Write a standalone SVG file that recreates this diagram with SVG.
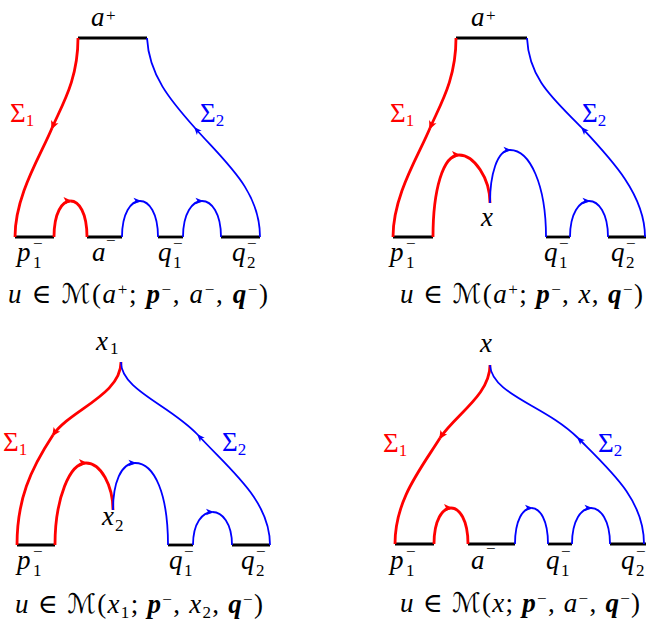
<svg xmlns="http://www.w3.org/2000/svg" width="646" height="625" viewBox="0 0 646 625">
<defs>
<style>
text{font-family:"Liberation Serif","DejaVu Serif",serif;font-size:27px;fill:#000}
.i{font-style:italic}
.bi{font-style:italic;font-weight:bold}
.s{font-size:17px}
.cal{font-family:"DejaVu Serif","DejaVu Sans",serif;font-style:normal}
.r{fill:#f00}
.b{fill:#00f}
.bar{stroke:#000;stroke-width:2.8;fill:none}
.rc{stroke:#f00;stroke-width:2.8;fill:none}
.bc{stroke:#00f;stroke-width:1.8;fill:none}
.rca{stroke:#f00;stroke-width:2.8;fill:none;marker-end:url(#ar)}
.bca{stroke:#00f;stroke-width:1.8;fill:none;marker-end:url(#ab)}
</style>
<marker id="ar" viewBox="-9 -5 11 10" refX="0" refY="0" markerWidth="11" markerHeight="10" orient="auto" markerUnits="userSpaceOnUse"><path d="M1.5,0 L-7,-4 L-5,0 L-7,4 Z" fill="#f00"/></marker>
<marker id="ab" viewBox="-9 -5 11 10" refX="0" refY="0" markerWidth="11" markerHeight="10" orient="auto" markerUnits="userSpaceOnUse"><path d="M1.5,0 L-6.5,-3.2 L-4.5,0 L-6.5,3.2 Z" fill="#00f"/></marker>
</defs>

<!-- Panel 1 -->
<g id="panel1">
<g id="p1-top"><line class="bar" x1="78" y1="38" x2="147" y2="38"/><text class="i" x="91" y="26">a</text><text class="s" x="106" y="21">+</text></g>
<g id="p1-p1"><line class="bar" x1="15" y1="237" x2="54" y2="237"/><text class="i" x="17" y="261">p</text><text class="s" x="33" y="268">1</text><text class="s" x="33" y="249">−</text></g>
<g id="p1-a"><line class="bar" x1="87" y1="237" x2="122" y2="237"/><text class="i" x="92" y="261">a</text><text class="s" x="106" y="246">−</text></g>
<g id="p1-q1"><line class="bar" x1="158" y1="237" x2="183" y2="237"/><text class="i" x="158" y="261">q</text><text class="s" x="173" y="268">1</text><text class="s" x="173" y="249">−</text></g>
<g id="p1-q2"><line class="bar" x1="221" y1="237" x2="260" y2="237"/><text class="i" x="232" y="261">q</text><text class="s" x="247" y="268">2</text><text class="s" x="247" y="249">−</text></g>
<g id="p1-labels">
<text class="r" x="10" y="122">Σ<tspan class="s" dy="4">1</tspan></text>
<text class="b" x="200" y="122">Σ<tspan class="s" dy="4">2</tspan></text>
<text x="8" y="303" textLength="260" lengthAdjust="spacing"><tspan class="i">u</tspan> ∈ <tspan class="cal">ℳ</tspan>(<tspan class="i">a</tspan><tspan class="s" dy="-8">+</tspan><tspan dy="8">; </tspan><tspan class="bi">p</tspan><tspan class="s" dy="-8">−</tspan><tspan dy="8">, </tspan><tspan class="i">a</tspan><tspan class="s" dy="-8">−</tspan><tspan dy="8">, </tspan><tspan class="bi">q</tspan><tspan class="s" dy="-8">−</tspan><tspan dy="8">)</tspan></text>
</g>
<g id="p1-connectors">
<path class="rca" d="M78 38 C78 80 62 105 52 128"/><path class="rc" d="M52 128 C41 155 15 195 15 237"/>
<path class="bca" d="M260 237 C260 190 225 162 195 128"/><path class="bc" d="M195 128 C170 100 149 75 147 38"/>
<path class="rca" d="M54 237 C54 213 62 201 70.5 201"/><path class="rc" d="M70.5 201 C79 201 87 213 87 237"/>
<path class="bca" d="M122 237 C122 213 131 201 140 201"/><path class="bc" d="M140 201 C149 201 158 213 158 237"/>
<path class="bca" d="M183 237 C183 213 192.5 201 202 201"/><path class="bc" d="M202 201 C211.5 201 221 213 221 237"/>
</g>
</g>

<!-- Panel 2 -->
<g id="panel2">
<g id="p2-top"><line class="bar" x1="456" y1="38" x2="527" y2="38"/><text class="i" x="471" y="26">a</text><text class="s" x="486" y="21">+</text></g>
<g id="p2-p1"><line class="bar" x1="393" y1="237" x2="433" y2="237"/><text class="i" x="390" y="261">p</text><text class="s" x="406" y="268">1</text><text class="s" x="406" y="249">−</text></g>
<g id="p2-x"><text class="i" x="481" y="226">x</text></g>
<g id="p2-q1"><line class="bar" x1="546" y1="237" x2="570" y2="237"/><text class="i" x="544" y="261">q</text><text class="s" x="559" y="268">1</text><text class="s" x="559" y="249">−</text></g>
<g id="p2-q2"><line class="bar" x1="608" y1="237" x2="646" y2="237"/><text class="i" x="611" y="261">q</text><text class="s" x="626" y="268">2</text><text class="s" x="626" y="249">−</text></g>
<g id="p2-labels">
<text class="r" x="390" y="122">Σ<tspan class="s" dy="4">1</tspan></text>
<text class="b" x="582" y="122">Σ<tspan class="s" dy="4">2</tspan></text>
<text x="400" y="303" textLength="243" lengthAdjust="spacing"><tspan class="i">u</tspan> ∈ <tspan class="cal">ℳ</tspan>(<tspan class="i">a</tspan><tspan class="s" dy="-8">+</tspan><tspan dy="8">; </tspan><tspan class="bi">p</tspan><tspan class="s" dy="-8">−</tspan><tspan dy="8">, </tspan><tspan class="i">x</tspan>, <tspan class="bi">q</tspan><tspan class="s" dy="-8">−</tspan><tspan dy="8">)</tspan></text>
</g>
<g id="p2-connectors">
<path class="rca" d="M456 38 C456 80 440 105 430 128"/><path class="rc" d="M430 128 C419 155 393 195 393 237"/>
<path class="bca" d="M645 237 C645 195 612 160 582 128"/><path class="bc" d="M582 128 C555 100 529 80 527 38"/>
<path class="rca" d="M433 237 C433 190 443 155 459 155"/><path class="rc" d="M459 155 C474 155 490 178 490 203"/>
<path class="bca" d="M490 203 C490 175 497 150 510 150"/><path class="bc" d="M510 150 C530 150 546 185 546 237"/>
<path class="bca" d="M570 237 C570 213 579.5 201 589 201"/><path class="bc" d="M589 201 C598.5 201 608 213 608 237"/>
</g>
</g>

<!-- Panel 3 -->
<g id="panel3">
<g id="p3-x1"><text class="i" x="96" y="350">x</text><text class="s" x="110" y="354">1</text></g>
<g id="p3-p1"><line class="bar" x1="17" y1="545" x2="55" y2="545"/><text class="i" x="17" y="569">p</text><text class="s" x="33" y="576">1</text><text class="s" x="33" y="557">−</text></g>
<g id="p3-x2"><text class="i" x="102" y="525">x</text><text class="s" x="115" y="531">2</text></g>
<g id="p3-q1"><line class="bar" x1="168" y1="545" x2="193" y2="545"/><text class="i" x="169" y="569">q</text><text class="s" x="184" y="576">1</text><text class="s" x="184" y="557">−</text></g>
<g id="p3-q2"><line class="bar" x1="232" y1="545" x2="270" y2="545"/><text class="i" x="241" y="569">q</text><text class="s" x="256" y="576">2</text><text class="s" x="256" y="557">−</text></g>
<g id="p3-labels">
<text class="r" x="3" y="451">Σ<tspan class="s" dy="4">1</tspan></text>
<text class="b" x="222" y="451">Σ<tspan class="s" dy="4">2</tspan></text>
<text x="15" y="613" textLength="248" lengthAdjust="spacing"><tspan class="i">u</tspan> ∈ <tspan class="cal">ℳ</tspan>(<tspan class="i">x</tspan><tspan class="s" dy="5">1</tspan><tspan dy="-5">; </tspan><tspan class="bi">p</tspan><tspan class="s" dy="-8">−</tspan><tspan dy="8">, </tspan><tspan class="i">x</tspan><tspan class="s" dy="5">2</tspan><tspan dy="-5">, </tspan><tspan class="bi">q</tspan><tspan class="s" dy="-8">−</tspan><tspan dy="8">)</tspan></text>
</g>
<g id="p3-connectors">
<path class="rca" d="M121 362 C121 395 70 410 53 435"/><path class="rc" d="M53 435 C30 470 17 500 17 545"/>
<path class="bca" d="M270 545 C270 500 230 470 198 435"/><path class="bc" d="M198 435 C170 405 121 390 121 362"/>
<path class="rca" d="M55 545 C55 498 70 463 86 463"/><path class="rc" d="M86 463 C101 463 113 486 113 510"/>
<path class="bca" d="M113 510 C113 483 121 463 135 463"/><path class="bc" d="M135 463 C155 463 168 495 168 545"/>
<path class="bca" d="M193 545 C193 523 202.5 512 212.5 512"/><path class="bc" d="M212.5 512 C222 512 232 523 232 545"/>
</g>
</g>

<!-- Panel 4 -->
<g id="panel4">
<g id="p4-x"><text class="i" x="480" y="352">x</text></g>
<g id="p4-p1"><line class="bar" x1="395" y1="544" x2="434" y2="544"/><text class="i" x="390" y="569">p</text><text class="s" x="406" y="576">1</text><text class="s" x="406" y="557">−</text></g>
<g id="p4-a"><line class="bar" x1="468" y1="544" x2="515" y2="544"/><text class="i" x="471" y="569">a</text><text class="s" x="486" y="554">−</text></g>
<g id="p4-q1"><line class="bar" x1="548" y1="544" x2="572" y2="544"/><text class="i" x="546" y="569">q</text><text class="s" x="561" y="576">1</text><text class="s" x="561" y="557">−</text></g>
<g id="p4-q2"><line class="bar" x1="610" y1="544" x2="646" y2="544"/><text class="i" x="621" y="569">q</text><text class="s" x="636" y="576">2</text><text class="s" x="636" y="557">−</text></g>
<g id="p4-labels">
<text class="r" x="383" y="452">Σ<tspan class="s" dy="4">1</tspan></text>
<text class="b" x="598" y="452">Σ<tspan class="s" dy="4">2</tspan></text>
<text x="400" y="612" textLength="240" lengthAdjust="spacing"><tspan class="i">u</tspan> ∈ <tspan class="cal">ℳ</tspan>(<tspan class="i">x</tspan>; <tspan class="bi">p</tspan><tspan class="s" dy="-8">−</tspan><tspan dy="8">, </tspan><tspan class="i">a</tspan><tspan class="s" dy="-8">−</tspan><tspan dy="8">, </tspan><tspan class="bi">q</tspan><tspan class="s" dy="-8">−</tspan><tspan dy="8">)</tspan></text>
</g>
<g id="p4-connectors">
<path class="rca" d="M490 365 C490 395 455 415 440 438"/><path class="rc" d="M440 438 C420 470 395 500 395 544"/>
<path class="bca" d="M644 544 C644 500 612 472 578 438"/><path class="bc" d="M578 438 C545 405 492 395 490 365"/>
<path class="rca" d="M434 544 C434 520 442.5 508 451 508"/><path class="rc" d="M451 508 C459.5 508 468 520 468 544"/>
<path class="bca" d="M515 544 C515 520 523 508 531.5 508"/><path class="bc" d="M531.5 508 C540 508 548 520 548 544"/>
<path class="bca" d="M572 544 C572 520 581.5 508 591 508"/><path class="bc" d="M591 508 C600.5 508 610 520 610 544"/>
</g>
</g>
</svg>
